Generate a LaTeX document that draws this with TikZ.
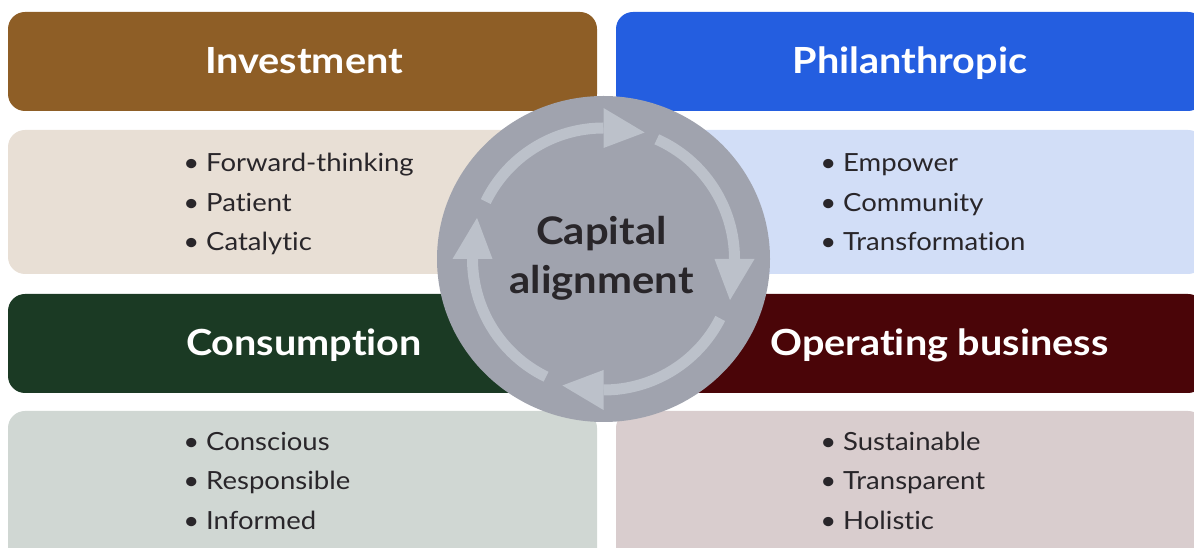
\documentclass[tikz,border=0pt]{standalone}
\usepackage{fontspec}
\setmainfont{Lato}[FakeStretch=1.1, Ligatures=NoCommon]
\usetikzlibrary{calc,shapes.geometric}
\definecolor{invH}{HTML}{8E5E26}
\definecolor{invB}{HTML}{E8DFD5}
\definecolor{phiH}{HTML}{245EE0}
\definecolor{phiB}{HTML}{D2DEF7}
\definecolor{conH}{HTML}{1B3A24}
\definecolor{conB}{HTML}{D0D7D3}
\definecolor{opeH}{HTML}{4A0508}
\definecolor{opeB}{HTML}{D9CDCE}
\definecolor{circC}{HTML}{A0A3AE}
\definecolor{arrC}{HTML}{BCC1CA}
\definecolor{ink}{HTML}{29262A}
\newcommand\itembul{\llap{\textbullet\hspace{7pt}}}
\begin{document}
\begin{tikzpicture}[x=1pt,y=1pt,
  panel/.style={rounded corners=17pt, inner sep=0pt, minimum width=589pt, draw=none},
  hdr/.style={panel, minimum height=99pt},
  htext/.style={font=\fontsize{36}{40}\selectfont\bfseries, text=white, anchor=base, inner sep=0pt},
  btext/.style={font=\fontsize{25}{30}\selectfont, text=ink, anchor=base west, inner sep=0pt},
  ctext/.style={font=\fontsize{38}{44}\selectfont\bfseries, text=ink, anchor=base, inner sep=0pt},
  arcline/.style={draw=arrC, line width=11pt},
  arrhead/.style={fill=arrC}
]
\useasboundingbox (0,0) rectangle (1194,548);
\clip (0,0) rectangle (1194,548);
% header and body panels
\node[hdr, fill=invH] (invh) at (302.5,486.5) {};
\node[panel, fill=invB, minimum height=144pt] (invb) at (302.5,346) {};
\node[hdr, fill=phiH] (phih) at (910.5,486.5) {};
\node[panel, fill=phiB, minimum height=144pt] (phib) at (910.5,346) {};
\node[hdr, fill=conH] (conh) at (302.5,204.5) {};
\node[panel, fill=conB, minimum height=154pt] (conb) at (302.5,60) {};
\node[hdr, fill=opeH] (opeh) at (910.5,204.5) {};
\node[panel, fill=opeB, minimum height=154pt] (opeb) at (910.5,60) {};
% header texts
\node[htext] (tinv) at (304,474) {Investment};
\node[htext] (tphi) at (910,474) {Philanthropic};
\node[htext] (tcon) at (304,192) {Consumption};
\node[htext] (tope) at (939.5,192) {Operating business};
% bullet lists
\node[btext] (i1) at (206,376) {\itembul Forward-thinking};
\node[btext] (i2) at (206,336) {\itembul Patient};
\node[btext] (i3) at (206,297) {\itembul Catalytic};
\node[btext] (p1) at (843,376) {\itembul Empower};
\node[btext] (p2) at (843,336) {\itembul Community};
\node[btext] (p3) at (843,297) {\itembul Transformation};
\node[btext] (c1) at (206,97) {\itembul Conscious};
\node[btext] (c2) at (206,58) {\itembul Responsible};
\node[btext] (c3) at (206,18) {\itembul Informed};
\node[btext] (o1) at (843,97) {\itembul Sustainable};
\node[btext] (o2) at (843,58) {\itembul Transparent};
\node[btext] (o3) at (843,18) {\itembul Holistic};
% centre disc
\node[ellipse, fill=circC, minimum width=333pt, minimum height=326pt, inner sep=0pt] (cc) at (603.5,289) {};
\coordinate (C) at (603.5,289);
\foreach \b/\s in {90/154, 0/66, -90/-27, 180/244}{
  \draw[arcline] ($(C)+(\s:131)$) arc[start angle=\s, end angle=\b, radius=131];
  \fill[arrhead] ($(C)+(\b:111)$) -- ($(C)+(\b:151)$) -- ($(C)+(\b-18:133)$) -- cycle;
}
\node[ctext] (cap1) at (601.5,303) {Capital};
\node[ctext] (cap2) at (601.5,254) {alignment};
\end{tikzpicture}
\end{document}
